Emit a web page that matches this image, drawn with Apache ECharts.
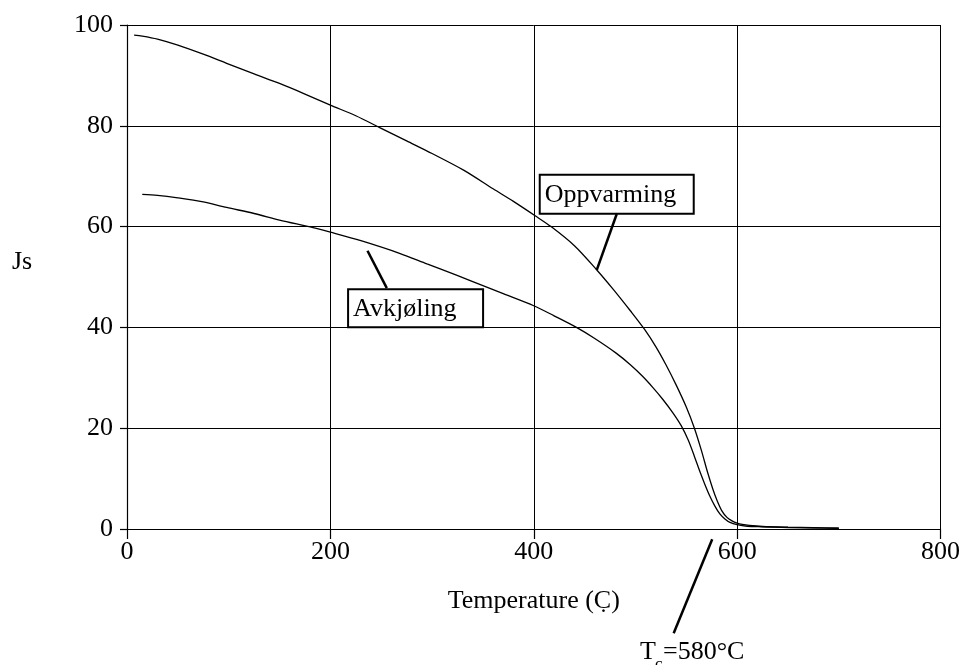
<!DOCTYPE html>
<html>
<head>
<meta charset="utf-8">
<script src="https://cdn.jsdelivr.net/npm/echarts@6/dist/echarts.min.js"></script>
<style>
html,body{margin:0;padding:0;background:#fff;}
#main{width:963px;height:665px;}
</style>
</head>
<body>
<div id="main"></div>
<script>
// Data (temperature in C, Js)
var xTicks = [0, 200, 400, 600, 800];
var yTicks = [0, 20, 40, 60, 80, 100];
var oppvarmingT = [7, 15, 30, 50, 75, 98, 125, 150, 175, 200, 225, 249, 275, 300, 331, 360, 380, 401, 417, 440, 462, 478, 495, 509, 520, 530, 540, 550, 558, 565, 571, 576, 580, 585, 590, 595, 600, 605, 612, 625, 650, 675, 700];
var oppvarmingJs = [98, 97.8, 97.2, 96, 94.2, 92.4, 90.3, 88.4, 86.3, 84.1, 82, 79.6, 77, 74.5, 71.2, 67.5, 65, 62.2, 60, 56.2, 51.4, 47.6, 43.3, 39.6, 36.2, 32.6, 28.6, 24.2, 20, 15.5, 11.2, 8, 5.8, 3.6, 2.3, 1.6, 1.15, 0.9, 0.7, 0.5, 0.35, 0.25, 0.15];
var avkjolingT = [15, 30, 50, 75, 98, 125, 150, 183, 200, 230, 268, 295, 308, 340, 370, 400, 420, 442, 460, 481, 495, 507, 517, 527, 537, 545, 552, 558, 563, 568, 573, 578, 583, 588, 593, 600, 610, 625, 650, 675, 700];
var avkjolingJs = [66.4, 66.2, 65.7, 64.9, 63.8, 62.6, 61.3, 59.8, 58.9, 57.2, 54.7, 52.6, 51.6, 49.1, 46.7, 44.3, 42.3, 40, 37.8, 34.9, 32.6, 30.3, 28.1, 25.7, 23, 20.5, 17.6, 14.4, 11.6, 9, 6.6, 4.6, 3, 2, 1.3, 0.85, 0.55, 0.45, 0.3, 0.22, 0.15];
var labels = { up: 'Oppvarming', down: 'Avkjøling', tc: '=580°C', xName: 'Temperature (C\u0323)', yName: 'Js' };

function pairs(xs, ys) { return xs.map(function (x, i) { return [x, ys[i]]; }); }

var FONT = 'Liberation Serif, Times New Roman, serif';
var FS = 26;
var chart = echarts.init(document.getElementById('main'), null, { renderer: 'canvas' });

var axisCommon = {
  axisLine: { show: true, lineStyle: { color: '#000', width: 1.2 } },
  splitLine: { show: true, lineStyle: { color: '#000', width: 1 } }
};

chart.setOption({
  animation: false,
  backgroundColor: '#fff',
  grid: { left: 127, right: 22, top: 25, bottom: 136, containLabel: false },
  xAxis: Object.assign({}, axisCommon, {
    type: 'value', min: xTicks[0], max: xTicks[xTicks.length - 1], interval: 200,
    axisTick: { show: true, length: 10, lineStyle: { color: '#000', width: 1.2 } },
    axisLabel: { color: '#000', fontSize: FS, fontFamily: FONT, margin: 10 },
    name: labels.xName, nameLocation: 'middle', nameGap: 59,
    nameTextStyle: { color: '#000', fontSize: FS, fontFamily: FONT }
  }),
  yAxis: Object.assign({}, axisCommon, {
    type: 'value', min: yTicks[0], max: yTicks[yTicks.length - 1], interval: 20,
    axisTick: { show: true, length: 7, lineStyle: { color: '#000', width: 1.2 } },
    axisLabel: { color: '#000', fontSize: FS, fontFamily: FONT, margin: 14 }
  }),
  series: [
    { type: 'line', data: pairs(oppvarmingT, oppvarmingJs), showSymbol: false, smooth: 0.3,
      lineStyle: { color: '#000', width: 1.3 }, z: 5 },
    { type: 'line', data: pairs(avkjolingT, avkjolingJs), showSymbol: false, smooth: 0.3,
      lineStyle: { color: '#000', width: 1.3 }, z: 5 }
  ]
});

function px(x, y) { return chart.convertToPixel({ gridIndex: 0 }, [x, y]); }

// annotation anchors in data coordinates
var upBox = px(481.6, 66.4), upA = px(481.6, 62.5), upB = px(462, 51.4);
var dnBox = px(283.8, 43.8), dnA = px(255.5, 47.8), dnB = px(236.5, 55.2);
var tcA = px(575.5, -2.05), tcB = px(537.6, -20.7);

function box(c, w, h, text) {
  return [
    { type: 'rect', shape: { x: c[0] - w / 2, y: c[1] - h / 2, width: w, height: h },
      style: { fill: '#fff', stroke: '#000', lineWidth: 2 }, z: 10 },
    { type: 'text', x: c[0] - w / 2 + 5, y: c[1] + 1, z: 11,
      style: { text: text, font: FS + 'px ' + FONT, fill: '#000', verticalAlign: 'middle', align: 'left' } }
  ];
}
function seg(a, b) {
  return { type: 'line', shape: { x1: a[0], y1: a[1], x2: b[0], y2: b[1] }, style: { stroke: '#000', lineWidth: 2.5 }, z: 10 };
}

var g = [];
g = g.concat(box(upBox, 154, 39, labels.up));
g = g.concat(box(dnBox, 135, 38, labels.down));
g.push(seg(upA, upB), seg(dnA, dnB), seg(tcA, tcB));
g.push({ type: 'text', x: 12, y: 262, z: 11, style: { text: labels.yName, font: FS + 'px ' + FONT, fill: '#000', verticalAlign: 'middle' } });
g.push({ type: 'text', x: 640, y: 665, z: 11, style: { text: 'T', font: '26px ' + FONT, fill: '#000', verticalAlign: 'bottom' } });
g.push({ type: 'text', x: 655, y: 673, z: 11, style: { text: 'c', font: '17px ' + FONT, fill: '#000', verticalAlign: 'bottom' } });
g.push({ type: 'text', x: 663, y: 665, z: 11, style: { text: labels.tc, font: '26px ' + FONT, fill: '#000', verticalAlign: 'bottom' } });

chart.setOption({ graphic: g });
</script>
</body>
</html>
